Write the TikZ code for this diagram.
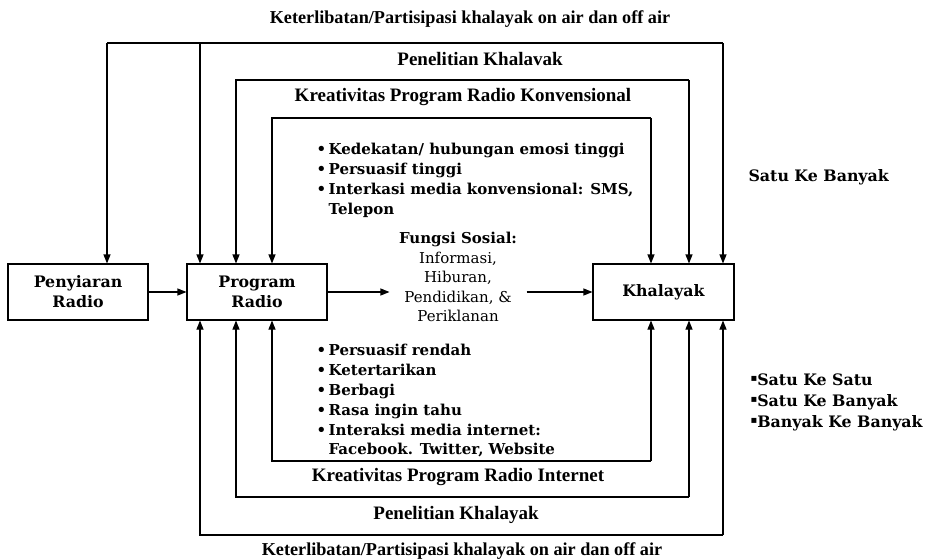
\documentclass[tikz,border=0pt]{standalone}
\usepackage{fontspec}
\setmainfont{Liberation Serif}
\newfontfamily\dvs{DejaVu Serif}
\newfontfamily\dvsans{DejaVu Sans}
\usetikzlibrary{arrows.meta}
\newcommand{\sqb}{\raisebox{0.22em}{\dvsans\fontsize{10}{21}\selectfont ▪}}
\begin{document}
\begin{tikzpicture}[x=1pt,y=-1pt, line width=1.1pt,
  arr/.style={-{Triangle[length=9pt,width=7pt]}},
  box/.style={draw, minimum width=140pt, minimum height=56pt, inner sep=0pt, align=center,
    font=\dvs\bfseries\fontsize{15.8}{20}\selectfont},
  lbl/.style={font=\bfseries\fontsize{19}{22}\selectfont, inner sep=0pt},
  bl/.style={font=\dvs\bfseries\fontsize{15}{19.8}\selectfont, align=left, inner sep=0pt, anchor=north west},
  fsx/.style={font=\dvs\fontsize{15}{19.5}\selectfont, align=center, inner ysep=0pt, inner xsep=9pt}]
\useasboundingbox (0,0) rectangle (930,560);
% boxes
\node[box] (pen) at (78,292) {Penyiaran\\Radio};
\node[box] (prog) at (257,292) {Program\\Radio};
\node[box, minimum width=141pt] (kha) at (663.5,292) {Khalayak};
\node[fsx] (fs) at (458,277) {{\bfseries Fungsi Sosial:}\\Informasi,\\Hiburan,\\Pendidikan, \&\\Periklanan};
\draw[arr] (pen.east) -- (prog.west);
\draw[arr] (prog.east) -- (prog.east -| fs.west);
\draw[arr] (fs.east |- kha.west) -- (kha.west);
% top loops
\coordinate (t1l) at (107,43);
\coordinate (t1m) at (200,43);
\coordinate (t1r) at (723,43);
\coordinate (t2l) at (236,80);
\coordinate (t2r) at (689,80);
\coordinate (t3l) at (272,118);
\coordinate (t3r) at (651,118);
\draw (t1l) -- (t1r);
\draw[arr] (t1l) -- (t1l |- pen.north);
\draw[arr] (t1m) -- (t1m |- prog.north);
\draw[arr] (t1r) -- (t1r |- kha.north);
\draw[arr] (t2r) -- (t2l) -- (t2l |- prog.north);
\draw[arr] (t2r) -- (t2r |- kha.north);
\draw[arr] (t3r) -- (t3l) -- (t3l |- prog.north);
\draw[arr] (t3r) -- (t3r |- kha.north);
% bottom loops
\coordinate (b1l) at (200,535);
\coordinate (b1r) at (723,535);
\coordinate (b2l) at (236,497);
\coordinate (b2r) at (689,497);
\coordinate (b3l) at (272,461);
\coordinate (b3r) at (651,461);
\draw[arr] (b1r) -- (b1l) -- (b1l |- prog.south);
\draw[arr] (b1r) -- (b1r |- kha.south);
\draw[arr] (b2r) -- (b2l) -- (b2l |- prog.south);
\draw[arr] (b2r) -- (b2r |- kha.south);
\draw[arr] (b3r) -- (b3l) -- (b3l |- prog.south);
\draw[arr] (b3r) -- (b3r |- kha.south);
% loop labels
\node[lbl, font=\bfseries\fontsize{18.2}{22}\selectfont] (l1) at (470,19) {Keterlibatan/Partisipasi khalayak on air dan off air};
\node[lbl] (l2) at (480,59) {Penelitian Khalavak};
\node[lbl] (l3) at (463,97) {Kreativitas Program Radio Konvensional};
\node[lbl] (l4) at (458,477) {Kreativitas Program Radio Internet};
\node[lbl] (l5) at (456,515) {Penelitian Khalayak};
\node[lbl, font=\bfseries\fontsize{18.2}{22}\selectfont] (l6) at (462,551) {Keterlibatan/Partisipasi khalayak on air dan off air};
% bullet lists
\node[bl] (up) at (316,143) {•\,Kedekatan/ hubungan emosi tinggi\\•\,Persuasif tinggi\\•\,Interkasi media konvensional: SMS,\\\phantom{•\,}Telepon};
\node[bl] (lo) at (316,344) {•\,Persuasif rendah\\•\,Ketertarikan\\•\,Berbagi\\•\,Rasa ingin tahu\\•\,Interaksi media internet:\\\phantom{•\,}Facebook. Twitter, Website};
\node[bl, anchor=west, font=\dvs\bfseries\fontsize{15.8}{20}\selectfont] (skb) at (748,177) {Satu Ke Banyak};
\node[bl, font=\dvs\bfseries\fontsize{15.8}{21}\selectfont] (rl) at (750,373) {\sqb Satu Ke Satu\\\sqb Satu Ke Banyak\\\sqb Banyak Ke Banyak};
\end{tikzpicture}
\end{document}
